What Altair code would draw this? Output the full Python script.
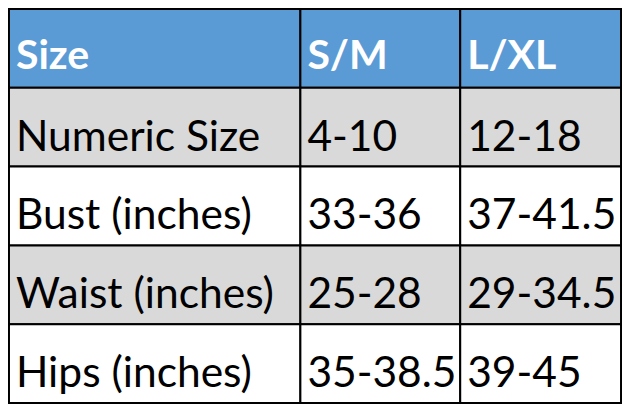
import altair as alt
import pandas as pd

# table content
headers = ["Size", "S/M", "L/XL"]
measures = ["Numeric Size", "Bust (inches)", "Waist (inches)", "Hips (inches)"]
sm = ["4-10", "33-36", "25-28", "35-38.5"]
lxl = ["12-18", "37-41.5", "29-34.5", "39-45"]

# grid layout (reference pixel units)
col_edges = [1, 300, 464, 629]
row_edges = [1, 83, 165, 247, 329, 411]

body = [headers] + [[m, a, b] for m, a, b in zip(measures, sm, lxl)]
recs = []
for r, row in enumerate(body):
    for c, txt in enumerate(row):
        recs.append({
            "text": txt,
            "x0": col_edges[c], "x1": col_edges[c + 1],
            "y0": row_edges[r], "y1": row_edges[r + 1],
            "band": "header" if r == 0 else ("shade" if r % 2 == 1 else "plain"),
        })
df = pd.DataFrame(recs)

xs = alt.Scale(domain=[0, 630], range=[0, 614], nice=False, zero=False)
ys = alt.Scale(domain=[0, 412], range=[0, 396], nice=False, zero=False)

base = alt.Chart(df)

cells = base.mark_rect(stroke="black", strokeWidth=2).encode(
    x=alt.X("x0:Q", scale=xs, axis=None),
    x2="x1:Q",
    y=alt.Y("y0:Q", scale=ys, axis=None),
    y2="y1:Q",
    fill=alt.Fill("band:N", legend=None,
                  scale=alt.Scale(domain=["header", "shade", "plain"],
                                  range=["#5B9BD5", "#D9D9D9", "#FFFFFF"])),
)

head_text = base.transform_filter(alt.datum.band == "header").mark_text(
    align="left", baseline="alphabetic", dx=7, dy=-19,
    font="Lato", fontSize=41, fontWeight="bold", color="white"
).encode(
    x=alt.X("x0:Q", scale=xs, axis=None),
    y=alt.Y("y1:Q", scale=ys, axis=None),
    text="text:N",
)

body_text = base.transform_filter(alt.datum.band != "header").mark_text(
    align="left", baseline="alphabetic", dx=7, dy=-16,
    font="Lato", fontSize=42.5, color="black"
).encode(
    x=alt.X("x0:Q", scale=xs, axis=None),
    y=alt.Y("y1:Q", scale=ys, axis=None),
    text="text:N",
)

chart = (cells + head_text + body_text).properties(
    width=614, height=396, padding=0, autosize=alt.AutoSizeParams(type="none")
).configure_view(stroke=None)

chart.save("out.html", embed_options={"renderer": "svg", "actions": False})
